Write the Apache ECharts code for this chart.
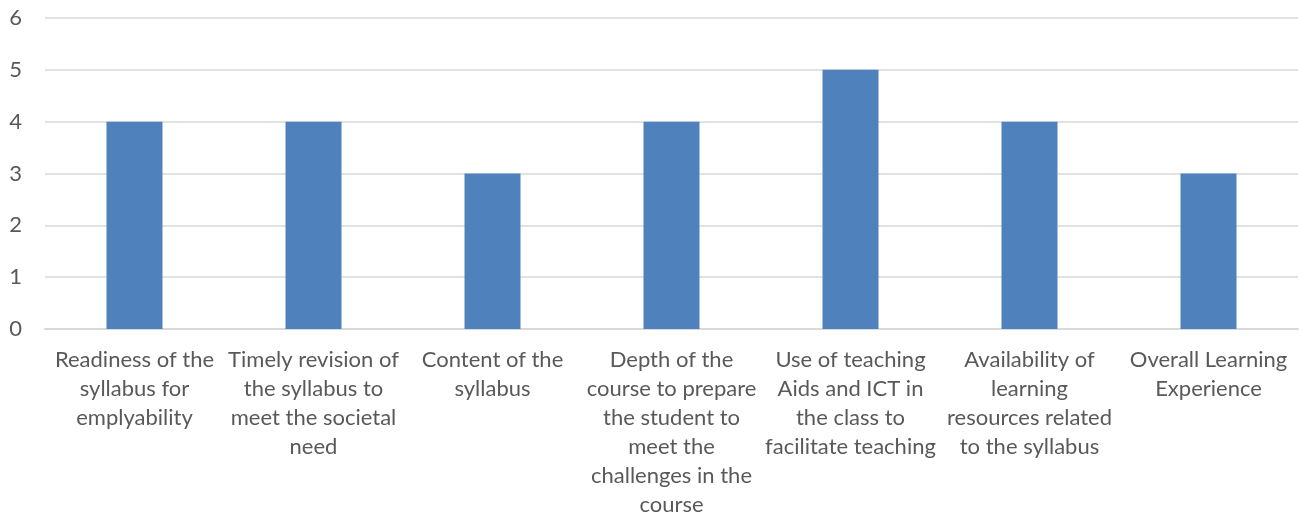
<!DOCTYPE html>
<html>
<head>
<meta charset="utf-8">
<script src="https://cdn.jsdelivr.net/npm/echarts@6/dist/echarts.min.js"></script>
<style>
  html, body { margin: 0; padding: 0; background: #fff; }
  #chart { width: 1302px; height: 523px; }
</style>
</head>
<body>
<div id="chart"></div>
<script>
// categories (line breaks as in the picture)
const categories = [
  'Readiness of the\nsyllabus for\nemplyability',
  'Timely revision of\nthe syllabus to\nmeet the societal\nneed',
  'Content of the\nsyllabus',
  'Depth of the\ncourse to prepare\nthe student to\nmeet the\nchallenges in the\ncourse',
  'Use of teaching\nAids and ICT in\nthe class to\nfacilitate teaching',
  'Availability of\nlearning\nresources related\nto the syllabus',
  'Overall Learning\nExperience'
];
const values = [4, 4, 3, 4, 5, 4, 3];

const chart = echarts.init(document.getElementById('chart'));

const option = {
  animation: false,
  grid: { left: 45, right: 4, top: 18, bottom: 194 },
  xAxis: {
    type: 'category',
    data: categories,
    axisTick: { show: false },
    axisLine: { lineStyle: { color: '#d9d9d9', width: 2 } },
    axisLabel: {
      interval: 0,
      margin: 16,
      color: '#595959',
      fontFamily: 'Lato',
      fontSize: 22,
      lineHeight: 29
    }
  },
  yAxis: {
    type: 'value',
    min: 0,
    max: 6,
    interval: 1,
    axisLine: { show: false },
    axisTick: { show: false },
    axisLabel: {
      color: '#595959',
      fontFamily: 'Lato',
      fontSize: 22,
      margin: 23
    },
    splitLine: { lineStyle: { color: '#d9d9d9', width: 1.5 } }
  },
  series: [{
    type: 'bar',
    data: values,
    barWidth: 56,
    itemStyle: { color: '#4f81bd' }
  }]
};

chart.setOption(option);
</script>
</body>
</html>
